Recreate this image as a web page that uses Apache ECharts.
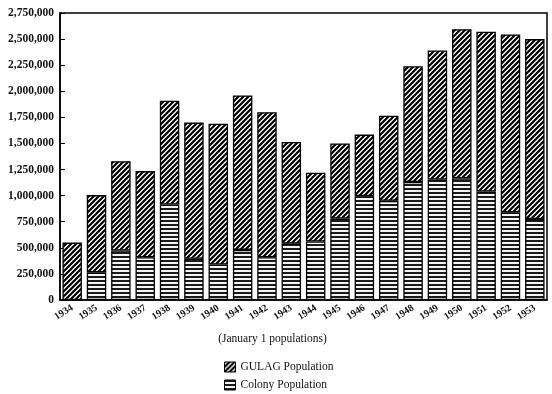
<!DOCTYPE html>
<html><head><meta charset="utf-8">
<script src="https://cdn.jsdelivr.net/npm/echarts@6/dist/echarts.min.js"></script>
<style>html,body{margin:0;padding:0;background:#fff}#c{width:552px;height:394px}</style>
</head><body><div id="c"></div>
<script>
const years = ['1934','1935','1936','1937','1938','1939','1940','1941','1942','1943','1944','1945','1946','1947','1948','1949','1950','1951','1952','1953'];
const colonyPop = [0, 265000, 475000, 410000, 915000, 395000, 340000, 480000, 410000, 540000, 560000, 780000, 995000, 950000, 1130000, 1155000, 1165000, 1040000, 840000, 775000];
const gulagPop = [550000, 740000, 855000, 825000, 995000, 1305000, 1350000, 1480000, 1390000, 975000, 660000, 720000, 590000, 815000, 1110000, 1235000, 1430000, 1530000, 1705000, 1725000];
const seriesNames = ['GULAG Population', 'Colony Population'];
const xAxisTitle = '(January 1 populations)';

function hatch() {
  const s = 5;
  const c = document.createElement('canvas'); c.width = s; c.height = s;
  const x = c.getContext('2d');
  x.fillStyle = '#fff'; x.fillRect(0, 0, s, s);
  x.strokeStyle = '#000'; x.lineWidth = 2.2;
  x.beginPath();
  x.moveTo(-1, s + 1); x.lineTo(s + 1, -1);
  x.moveTo(-1, 1); x.lineTo(1, -1);
  x.moveTo(s - 1, s + 1); x.lineTo(s + 1, s - 1);
  x.stroke();
  return c;
}
function hlines() {
  const c = document.createElement('canvas'); c.width = 4; c.height = 4;
  const x = c.getContext('2d');
  x.fillStyle = '#f4f4f4'; x.fillRect(0, 0, 4, 4);
  x.fillStyle = '#1a1a1a'; x.fillRect(0, 0, 4, 2);
  return c;
}
const hatchPat = { image: hatch(), repeat: 'repeat' };
const linePat = { image: hlines(), repeat: 'repeat' };
const serif = '"Liberation Serif", "DejaVu Serif", serif';

const legendBase = {
  left: 219, itemWidth: 11, itemHeight: 10, icon: 'rect',
  textStyle: { fontFamily: serif, fontSize: 11.5, color: '#111' },
  itemStyle: { borderColor: '#000', borderWidth: 1 }
};

const chart = echarts.init(document.getElementById('c'), null, { renderer: 'canvas' });
chart.setOption({
  animation: false,
  backgroundColor: '#fff',
  grid: { left: 60, right: 5, top: 13, bottom: 94, show: true, borderColor: '#000', borderWidth: 1.5, backgroundColor: 'transparent' },
  legend: [
    Object.assign({ data: [seriesNames[0]], top: 356 }, legendBase),
    Object.assign({ data: [seriesNames[1]], top: 374 }, legendBase)
  ],
  xAxis: {
    type: 'category', data: years,
    name: xAxisTitle, nameLocation: 'middle', nameGap: 33,
    nameTextStyle: { fontFamily: serif, fontSize: 11.5, color: '#111', padding: [0, 62, 0, 0] },
    axisLine: { lineStyle: { color: '#000', width: 1.5 } },
    axisTick: { show: false },
    axisLabel: { interval: 0, rotate: 33, margin: 7, fontFamily: serif, fontWeight: 'bold', fontSize: 10, color: '#111' }
  },
  yAxis: {
    type: 'value', min: 0, max: 2750000, interval: 250000,
    axisLine: { show: true, lineStyle: { color: '#000', width: 1.5 } },
    axisTick: { show: true, inside: true, length: 5, lineStyle: { color: '#000' } },
    splitLine: { show: false },
    axisLabel: { margin: 6, fontFamily: serif, fontWeight: 'bold', fontSize: 11.5, color: '#111',
      formatter: v => v.toLocaleString('en-US') }
  },
  series: [
    { name: 'Colony Population', type: 'bar', stack: 'pop', data: colonyPop, barCategoryGap: '20%',
      itemStyle: { color: linePat, borderColor: '#000', borderWidth: 1.3 } },
    { name: 'GULAG Population', type: 'bar', stack: 'pop', data: gulagPop, barCategoryGap: '20%',
      itemStyle: { color: hatchPat, borderColor: '#000', borderWidth: 1.3 } }
  ]
});
</script></body></html>
